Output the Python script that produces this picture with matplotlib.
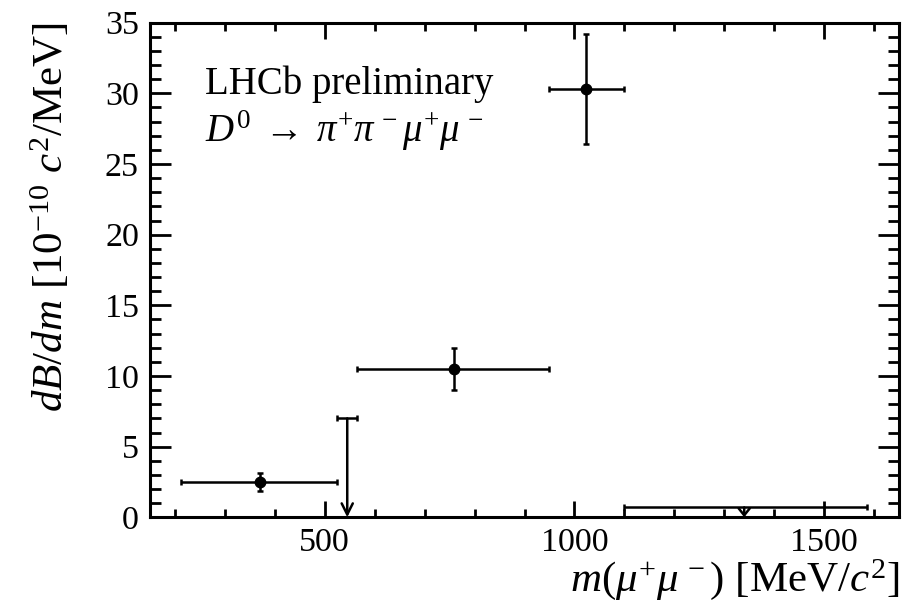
import matplotlib
matplotlib.use("Agg")
import matplotlib.pyplot as plt
import numpy as np
from matplotlib.ticker import MultipleLocator

# ---- data ----
bin_lo = [212, 525, 565, 950, 1100]
bin_hi = [525, 565, 950, 1100, 1586]
x_pts = [370, 545, 758, 1024, 1340]
values = [2.5, 7.0, 10.5, 30.3, 0.7]
errors = [0.65, 0.0, 1.5, 3.9, 0.0]
is_limit = [False, True, False, False, True]

x_ticks = [500, 1000, 1500]
y_ticks = [0, 5, 10, 15, 20, 25, 30, 35]

plt.rcParams['font.family'] = ['Liberation Serif', 'DejaVu Serif']
plt.rcParams['mathtext.fontset'] = 'custom'
plt.rcParams['mathtext.rm'] = 'Liberation Serif'
plt.rcParams['mathtext.it'] = 'Liberation Serif:italic'
plt.rcParams['mathtext.bf'] = 'Liberation Serif:bold'

fig = plt.figure(figsize=(9.19, 6.09), dpi=100)
ax = fig.add_axes([150/919, 1-517.3/609, (899-150)/919, (517.3-22.7)/609])

lw = 1.8
for lo, hi, xc, v, e, lim in zip(bin_lo, bin_hi, x_pts, values, errors, is_limit):
    xerr = [[xc - lo], [hi - xc]]
    if lim:
        ax.errorbar([xc], [v], xerr=xerr, fmt='none', ecolor='black',
                    elinewidth=lw, capsize=2.4, capthick=lw)
        hl, hw = (0.8, 0.4) if v > 2 else (0.5, 0.4)
        ax.annotate('', xy=(xc, 0), xytext=(xc, v),
                    arrowprops=dict(arrowstyle=f'->,head_length={hl},head_width={hw}',
                                    color='black', lw=lw, shrinkA=0, shrinkB=0))
    else:
        ax.errorbar([xc], [v], xerr=xerr, yerr=[[e], [e]], fmt='o', color='black',
                    markersize=7.5, elinewidth=lw, capsize=2.4, capthick=lw)

ax.set_xlim(150, 1650)
ax.set_ylim(0, 35)
ax.set_xticks(x_ticks)
ax.set_yticks(y_ticks)
ax.xaxis.set_minor_locator(MultipleLocator(100))
ax.yaxis.set_minor_locator(MultipleLocator(1))

for s in ax.spines.values():
    s.set_linewidth(2.2)
ax.tick_params(which='both', direction='in', top=True, right=True,
               labelsize=24.5, width=2.0, color='black')
ax.tick_params(axis='x', which='major', length=11.5, pad=7)
ax.tick_params(axis='x', which='minor', length=5.5)
ax.tick_params(axis='y', which='major', length=15, pad=8)
ax.tick_params(axis='y', which='minor', length=8)

ax.set_xlabel(r'$m(\mu^{+}\mu^{\,-})$ [MeV/$c^{2}$]', fontsize=31, loc='right')
ax.set_ylabel(r'$dB/dm$ [10$^{-10}$ $c^{2}$/MeV]', fontsize=31, loc='top')
ax.xaxis.set_label_coords(1.0, -0.08)
ax.yaxis.set_label_coords(-0.104, 1.0)

ax.text(0.073, 0.855, 'LHCb preliminary', transform=ax.transAxes, fontsize=28,
        va='baseline', ha='left')
ax.text(0.073, 0.759, r'$D^{0}\;\rightarrow\;\pi^{+}\pi^{\,-}\mu^{+}\mu^{\,-}$',
        transform=ax.transAxes, fontsize=28, va='baseline', ha='left')

fig.savefig('out.png', dpi=100)
